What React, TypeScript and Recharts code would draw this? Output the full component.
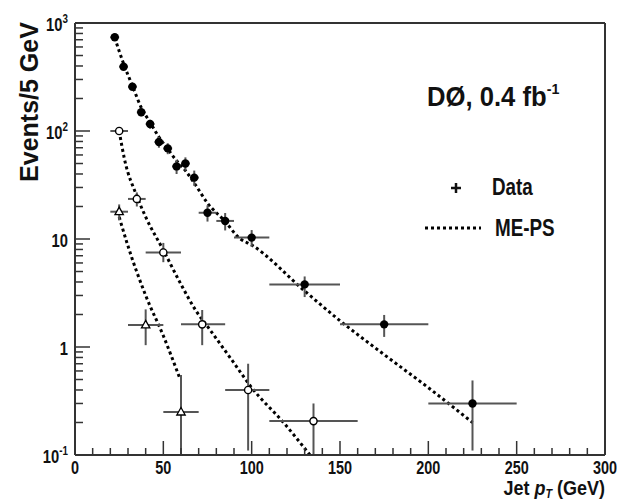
import React from 'react';
import { ComposedChart, Scatter, Line, XAxis, YAxis, ErrorBar, ReferenceLine } from 'recharts';

// filled circles: first jet
const set1X = [22.5, 27.5, 32.5, 37.5, 42.5, 47.5, 52.5, 57.5, 62.5, 67.5, 75, 85, 100, 130, 175, 225];
const set1Y = [738, 394, 257, 149, 116, 79, 69, 47, 50, 37, 17.5, 14.7, 10.3, 3.8, 1.62, 0.3];
const set1BinLo = [20, 25, 30, 35, 40, 45, 50, 55, 60, 65, 70, 80, 90, 110, 150, 200];
const set1BinHi = [25, 30, 35, 40, 45, 50, 55, 60, 65, 70, 80, 90, 110, 150, 200, 250];
const set1ErrLo = [27, 20, 16, 12, 11, 9, 8, 7, 7, 6, 3, 2.7, 1.8, 0.9, 0.38, 0.19];
const set1ErrHi = [27, 20, 16, 12, 11, 9, 8, 7, 7, 6, 3, 2.7, 1.8, 0.7, 0.36, 0.19];

// open circles: second jet
const set2X = [25, 35, 50, 72, 98, 135];
const set2Y = [100, 23.5, 7.5, 1.62, 0.4, 0.206];
const set2BinLo = [20, 30, 40, 60, 85, 110];
const set2BinHi = [30, 40, 60, 85, 110, 160];
const set2ErrLo = [7, 3.5, 1.4, 0.58, 0.29, 0.105];
const set2ErrHi = [7, 3.5, 1.7, 0.58, 0.3, 0.094];

// open triangles: third jet
const set3X = [25, 40, 60];
const set3Y = [17.9, 1.6, 0.25];
const set3BinLo = [20, 30, 50];
const set3BinHi = [30, 50, 70];
const set3ErrLo = [3, 0.56, 0.149];
const set3ErrHi = [3, 0.63, 0.3];

// ME-PS predictions
const meps1X = [22.5, 27.5, 32.5, 37.5, 42.5, 47.5, 52.5, 57.5, 62.5, 67.5, 75, 85, 93, 100, 130, 150, 175, 200, 225];
const meps1Y = [730, 420, 262, 165, 120, 88, 68, 53, 43, 33, 21.5, 14.5, 10.2, 8.8, 3.3, 1.75, 0.85, 0.42, 0.2];
const meps2X = [25, 28, 35, 40, 50, 60, 69, 75, 90, 100, 118, 133];
const meps2Y = [100, 55, 25, 16, 7.9, 3.8, 2.1, 1.55, 0.71, 0.42, 0.2, 0.1];
const meps3X = [25, 30, 40, 50, 59];
const meps3Y = [16, 8.6, 3.0, 1.27, 0.53];

const xTicks = [0, 10, 20, 30, 40, 50, 60, 70, 80, 90, 100, 110, 120, 130, 140, 150, 160, 170, 180, 190, 200, 210, 220, 230, 240, 250, 260, 270, 280, 290, 300];
const xMajorTicks = [0, 50, 100, 150, 200, 250, 300];
const yTicks = [
  0.1, 0.2, 0.3, 0.4, 0.5, 0.6, 0.7, 0.8, 0.9,
  1, 2, 3, 4, 5, 6, 7, 8, 9,
  10, 20, 30, 40, 50, 60, 70, 80, 90,
  100, 200, 300, 400, 500, 600, 700, 800, 900, 1000,
];
const yMajorTicks = [0.1, 1, 10, 100, 1000];
const yTickBase = ['10', '1', '10', '10', '10'];
const yTickExp = ['-1', '', '', '2', '3'];

const font = "'Liberation Sans', Arial, sans-serif";
const axisColor = '#333';
const barColor = '#555';

const mkPoints = (xs: number[], ys: number[], lo: number[], hi: number[], eLo: number[], eHi: number[]) =>
  xs.map((x, i) => ({ x, y: ys[i], ex: [x - lo[i], hi[i] - x], ey: [eLo[i], eHi[i]] }));

const mkLine = (xs: number[], ys: number[]) => xs.map((x, i) => ({ x, y: ys[i] }));

const set1 = mkPoints(set1X, set1Y, set1BinLo, set1BinHi, set1ErrLo, set1ErrHi);
const set2 = mkPoints(set2X, set2Y, set2BinLo, set2BinHi, set2ErrLo, set2ErrHi);
const set3 = mkPoints(set3X, set3Y, set3BinLo, set3BinHi, set3ErrLo, set3ErrHi);

// condensed bold text (the original uses a narrow Helvetica)
const NText = ({ x, y, sx = 0.8, size, anchor = 'start', children }: any) => (
  <text
    transform={`translate(${x},${y}) scale(${sx},1)`}
    textAnchor={anchor}
    fontFamily={font}
    fontWeight="bold"
    fontSize={size}
    fill="#111"
  >
    {children}
  </text>
);

const FilledDot = (p: any) => <circle cx={p.cx} cy={p.cy} r={4.2} fill="#000" />;
const OpenDot = (p: any) => <circle cx={p.cx} cy={p.cy} r={3.6} fill="#fff" stroke="#000" strokeWidth={1.4} />;
const OpenTri = (p: any) => (
  <polygon
    points={`${p.cx},${p.cy - 4.5} ${p.cx - 4.2},${p.cy + 3} ${p.cx + 4.2},${p.cy + 3}`}
    fill="#fff"
    stroke="#000"
    strokeWidth={1.3}
  />
);

const XTick = (props: any) => {
  const { x, y, payload } = props;
  const major = xMajorTicks.includes(payload.value);
  return (
    <g>
      <line x1={x} x2={x} y1={y} y2={y - (major ? 14 : 7)} stroke={axisColor} strokeWidth={1.5} />
      {major && (
        <NText x={x} y={y + 19} sx={0.76} size={19} anchor="middle">
          {payload.value}
        </NText>
      )}
    </g>
  );
};

const YTick = (props: any) => {
  const { x, y, payload } = props;
  const i = yMajorTicks.indexOf(payload.value);
  return (
    <g>
      <line x1={x} x2={x + (i >= 0 ? 15 : 8)} y1={y} y2={y} stroke={axisColor} strokeWidth={1.5} />
      {i >= 0 && (
        <NText x={x - 7} y={y + 8} sx={0.82} size={18} anchor="end">
          {yTickBase[i]}
          {yTickExp[i] && (
            <tspan dy={-8} fontSize={12}>
              {yTickExp[i]}
            </tspan>
          )}
        </NText>
      )}
    </g>
  );
};

export default function App() {
  return (
    <div style={{ position: 'absolute', left: 0, top: 0, width: 617, height: 503, background: '#fff' }}>
      <ComposedChart width={617} height={503} margin={{ top: 23, right: 12, bottom: 0, left: 0 }}>
        <XAxis
          dataKey="x"
          type="number"
          domain={[0, 300]}
          ticks={xTicks}
          interval={0}
          allowDataOverflow
          height={48}
          tickSize={0}
          tickMargin={0}
          tickLine={false}
          tick={XTick}
          axisLine={{ stroke: axisColor, strokeWidth: 2 }}
        />
        <YAxis
          dataKey="y"
          type="number"
          scale="log"
          domain={[0.1, 1000]}
          ticks={yTicks}
          interval={0}
          allowDataOverflow
          width={75}
          tickSize={0}
          tickMargin={0}
          tickLine={false}
          tick={YTick}
          axisLine={{ stroke: axisColor, strokeWidth: 2 }}
        />
        <ReferenceLine y={1000} stroke={axisColor} strokeWidth={2} />
        <ReferenceLine x={300} stroke={axisColor} strokeWidth={2} />
        <Line data={mkLine(meps1X, meps1Y)} dataKey="y" type="monotone" stroke="#000" strokeWidth={3} strokeDasharray="3 3" dot={false} isAnimationActive={false} />
        <Line data={mkLine(meps2X, meps2Y)} dataKey="y" type="monotone" stroke="#000" strokeWidth={3} strokeDasharray="3 3" dot={false} isAnimationActive={false} />
        <Line data={mkLine(meps3X, meps3Y)} dataKey="y" type="monotone" stroke="#000" strokeWidth={3} strokeDasharray="3 3" dot={false} isAnimationActive={false} />
        <Scatter data={set1} dataKey="y" shape={FilledDot} isAnimationActive={false}>
          <ErrorBar dataKey="ex" direction="x" width={0} stroke={barColor} strokeWidth={2} />
          <ErrorBar dataKey="ey" direction="y" width={0} stroke={barColor} strokeWidth={2} />
        </Scatter>
        <Scatter data={set2} dataKey="y" shape={OpenDot} isAnimationActive={false}>
          <ErrorBar dataKey="ex" direction="x" width={0} stroke={barColor} strokeWidth={2} />
          <ErrorBar dataKey="ey" direction="y" width={0} stroke={barColor} strokeWidth={2} />
        </Scatter>
        <Scatter data={set3} dataKey="y" shape={OpenTri} isAnimationActive={false}>
          <ErrorBar dataKey="ex" direction="x" width={0} stroke={barColor} strokeWidth={2} />
          <ErrorBar dataKey="ey" direction="y" width={0} stroke={barColor} strokeWidth={2} />
        </Scatter>
      </ComposedChart>
      <svg width={617} height={503} style={{ position: 'absolute', left: 0, top: 0, pointerEvents: 'none' }}>
        <text transform="translate(38,102) rotate(-90)" textAnchor="middle" fontFamily={font} fontWeight="bold" fontSize={25} fill="#111">
          Events/5 GeV
        </text>
        <NText x={605} y={495} sx={0.9} size={20} anchor="end">
          Jet <tspan fontStyle="italic">p</tspan>
          <tspan fontStyle="italic" fontSize={12} dy={3}>T</tspan>
          <tspan dy={-3}> (GeV)</tspan>
        </NText>
        <NText x={427} y={106} sx={0.95} size={27}>
          DØ, 0.4 fb<tspan fontSize={15} dy={-12}>-1</tspan>
        </NText>
        <line x1={451} x2={461} y1={188} y2={188} stroke="#111" strokeWidth={2.5} />
        <line x1={456} x2={456} y1={183} y2={193} stroke="#111" strokeWidth={2.5} />
        <NText x={492} y={195} sx={0.82} size={23}>Data</NText>
        <line x1={425} x2={481} y1={228} y2={228} stroke="#000" strokeWidth={3} strokeDasharray="3 3" />
        <NText x={495} y={236} sx={0.82} size={23}>ME-PS</NText>
      </svg>
    </div>
  );
}
